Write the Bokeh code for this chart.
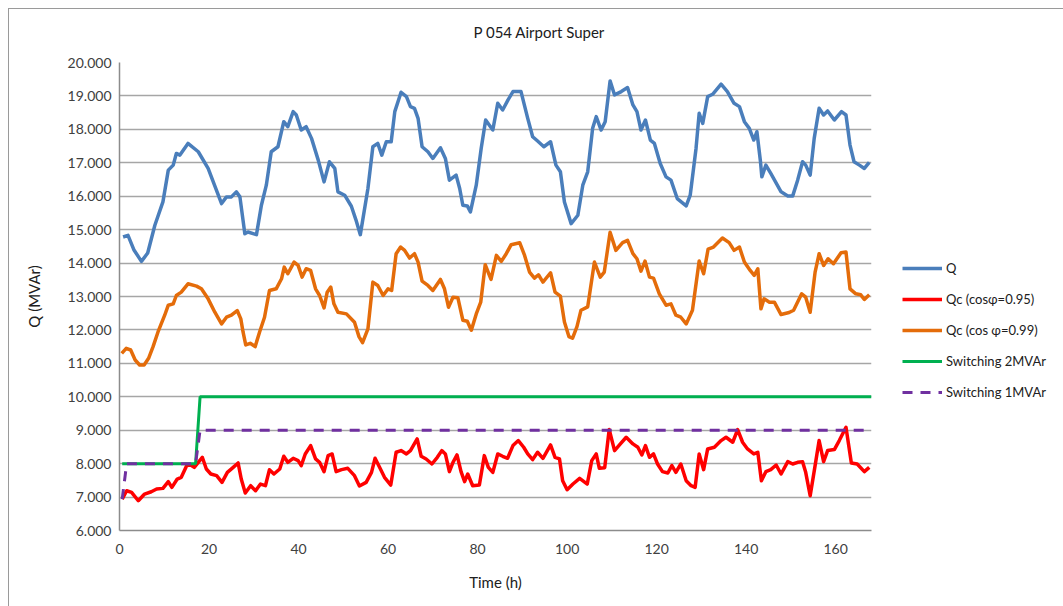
from bokeh.plotting import figure
from bokeh.models import (Legend, LegendItem, NumeralTickFormatter, FixedTicker, Range1d, Title)
from bokeh.embed import file_html
from bokeh.resources import INLINE

# ---------------- data ----------------
q_hours = [0.8, 1.9, 3.2, 4.9, 6.3, 7.9, 9.7, 10.9, 12.0, 12.7, 13.5, 15.3, 17.6, 19.8, 22.8, 23.9,
           25.0, 26.1, 26.9, 28.0, 28.7, 30.6, 31.7, 32.8, 33.9, 35.4, 36.7, 37.6, 38.8, 39.5, 40.6,
           41.7, 42.9, 44.4, 45.7, 46.9, 48.1, 48.8, 50.3, 51.8, 52.8, 53.8, 55.5, 56.6, 57.7, 58.6,
           59.6, 60.7, 61.5, 62.9, 64.1, 65.0, 65.9, 66.7, 67.6, 68.9, 70.0, 71.7, 72.8, 73.7, 75.2,
           76.0, 76.7, 77.7, 78.4, 79.7, 80.8, 81.8, 83.4, 84.5, 85.6, 86.8, 87.9, 89.7, 91.2, 92.3,
           93.4, 94.8, 96.3, 97.5, 98.5, 99.4, 100.9, 102.4, 103.5, 104.6, 105.7, 106.5, 107.6, 108.5,
           109.6, 110.6, 112.1, 113.5, 114.7, 115.6, 116.5, 117.5, 118.6, 119.5, 120.8, 122.1, 123.2,
           124.6, 126.6, 127.5, 128.8, 129.5, 130.3, 131.4, 132.5, 134.4, 135.8, 137.3, 138.5, 139.6,
           140.7, 141.7, 142.4, 143.2, 143.5, 144.4, 145.5, 147.8, 149.3, 150.4, 151.5, 152.6, 153.3,
           154.3, 155.2, 156.3, 157.3, 158.2, 159.7, 161.3, 162.3, 163.2, 164.1, 165.3, 166.4, 167.5]
q_values = [14.78, 14.83, 14.4, 14.05, 14.3, 15.13, 15.83, 16.78, 16.93, 17.28, 17.23, 17.58, 17.33,
            16.83, 15.78, 15.98, 15.98, 16.13, 15.98, 14.88, 14.93, 14.85, 15.73, 16.33, 17.33, 17.48,
            18.23, 18.08, 18.53, 18.43, 17.98, 18.08, 17.73, 17.08, 16.43, 17.03, 16.83, 16.13, 16.03,
            15.70, 15.3, 14.85, 16.23, 17.48, 17.58, 17.23, 17.63, 17.63, 18.53, 19.11, 18.98, 18.68,
            18.63, 18.33, 17.48, 17.33, 17.13, 17.45, 17.13, 16.48, 16.63, 16.23, 15.73, 15.71, 15.53,
            16.33, 17.43, 18.28, 17.98, 18.78, 18.58, 18.88, 19.13, 19.13, 18.33, 17.78, 17.65, 17.48,
            17.63, 16.93, 16.73, 15.83, 15.18, 15.43, 16.33, 16.73, 18.03, 18.38, 17.98, 18.23, 19.45,
            19.03, 19.13, 19.25, 18.73, 18.53, 17.98, 18.28, 17.68, 17.58, 16.98, 16.58, 16.48, 15.93,
            15.71, 16.03, 17.43, 18.48, 18.18, 18.98, 19.05, 19.35, 19.13, 18.78, 18.68, 18.23, 18.03,
            17.68, 17.93, 17.03, 16.58, 16.93, 16.68, 16.13, 16.01, 16.01, 16.48, 17.03, 16.93, 16.63,
            17.73, 18.63, 18.43, 18.55, 18.28, 18.53, 18.43, 17.53, 17.03, 16.93, 16.83, 17.01]

qc99_hours = [0.5, 1.5, 2.5, 3.5, 4.5, 5.5, 6.5, 7.5, 8.6, 10.1, 10.9, 12.0, 12.7, 13.8, 15.3, 17.2,
              18.3, 19.8, 21.3, 22.8, 23.9, 25.0, 26.3, 27.1, 27.6, 28.2, 29.2, 30.3, 31.3, 32.4, 33.5,
              35.0, 36.2, 36.8, 37.6, 39.0, 39.9, 40.8, 41.7, 42.7, 43.8, 44.7, 45.7, 46.4, 47.2, 47.9,
              48.8, 50.7, 52.5, 53.5, 54.3, 55.5, 56.6, 57.7, 58.9, 60.0, 60.8, 61.8, 62.8, 63.7, 64.8,
              65.9, 66.7, 67.6, 68.9, 70.0, 71.7, 72.6, 73.5, 74.5, 75.6, 76.7, 77.7, 78.6, 79.7, 80.7,
              81.7, 83.0, 84.2, 85.3, 86.4, 87.5, 89.4, 90.5, 91.6, 92.7, 93.6, 94.6, 96.3, 97.3, 98.5,
              99.4, 100.4, 101.2, 102.2, 103.1, 104.6, 106.1, 107.4, 108.3, 109.6, 110.9, 112.4, 113.5,
              114.7, 115.6, 116.5, 117.4, 118.4, 119.3, 120.6, 122.1, 123.2, 124.3, 125.4, 126.6, 128.0,
              129.5, 130.5, 131.5, 132.7, 134.7, 136.2, 137.3, 138.5, 139.6, 140.9, 141.8, 142.6, 143.3,
              144.0, 145.2, 146.3, 147.8, 149.6, 150.6, 152.4, 153.3, 154.3, 155.4, 156.3, 157.3, 158.3,
              159.5, 161.2, 162.3, 163.2, 164.5, 165.6, 166.4, 167.5]
qc99_values = [11.3, 11.45, 11.4, 11.1, 10.95, 10.95, 11.15, 11.5, 11.94, 12.44, 12.74, 12.78, 13.03,
               13.13, 13.38, 13.31, 13.23, 12.93, 12.53, 12.18, 12.38, 12.44, 12.58, 12.33, 11.94, 11.55,
               11.6, 11.5, 11.94, 12.38, 13.18, 13.23, 13.53, 13.88, 13.68, 14.03, 13.93, 13.58, 13.83,
               13.78, 13.23, 13.03, 12.66, 13.13, 13.28, 12.78, 12.53, 12.48, 12.23, 11.8, 11.62, 12.03,
               13.43, 13.33, 13.03, 13.23, 13.18, 14.28, 14.48, 14.38, 14.15, 14.28, 14.03, 13.46, 13.33,
               13.18, 13.51, 13.23, 12.68, 12.98, 12.96, 12.29, 12.26, 11.99, 12.48, 12.83, 13.95, 13.51,
               14.23, 14.05, 14.28, 14.55, 14.61, 14.23, 13.73, 13.55, 13.65, 13.43, 13.71, 13.13, 13.01,
               12.24, 11.8, 11.75, 12.1, 12.59, 12.69, 14.03, 13.58, 13.73, 14.92, 14.38, 14.61, 14.68,
               14.28, 14.13, 13.76, 14.06, 13.58, 13.55, 13.08, 12.74, 12.78, 12.44, 12.38, 12.18, 12.59,
               14.06, 13.68, 14.42, 14.48, 14.75, 14.61, 14.38, 14.48, 14.03, 13.78, 13.63, 13.83, 12.63,
               12.93, 12.83, 12.83, 12.46, 12.52, 12.59, 13.08, 12.98, 12.53, 13.73, 14.28, 13.93, 14.13,
               13.98, 14.31, 14.33, 13.23, 13.08, 13.05, 12.91, 13.05]

qc95_hours = [0.6, 1.6, 2.7, 4.2, 5.6, 7.1, 8.3, 9.7, 10.9, 11.7, 12.9, 13.8, 15.0, 15.9, 16.7, 17.6,
              18.5, 19.4, 20.4, 21.7, 22.9, 24.1, 25.4, 26.5, 27.2, 28.1, 29.3, 30.4, 31.5, 32.6, 33.5,
              34.5, 35.8, 36.7, 37.6, 38.8, 39.9, 40.6, 41.5, 42.7, 43.8, 44.7, 45.7, 46.6, 47.5, 48.4,
              49.6, 51.0, 52.5, 53.6, 55.1, 56.3, 57.1, 58.1, 59.2, 60.6, 61.8, 62.9, 64.1, 65.0, 66.5,
              67.4, 68.5, 69.8, 71.0, 72.0, 72.8, 73.7, 74.5, 75.4, 76.3, 77.1, 77.8, 78.9, 80.4, 81.5,
              82.4, 83.4, 84.5, 85.6, 86.7, 87.9, 89.1, 90.3, 91.2, 92.3, 93.4, 94.6, 96.3, 97.3, 98.3,
              99.0, 100.0, 101.3, 102.8, 104.5, 105.5, 106.5, 107.2, 108.4, 109.4, 110.6, 111.7, 113.2,
              114.7, 115.8, 116.7, 117.5, 118.4, 119.3, 120.2, 121.3, 122.5, 123.4, 124.3, 125.4, 126.6,
              127.7, 128.6, 129.5, 130.5, 131.4, 132.9, 134.4, 135.5, 137.0, 138.1, 139.2, 140.3, 141.7,
              142.6, 143.4, 144.4, 145.5, 146.7, 147.8, 149.3, 150.4, 151.5, 152.6, 153.3, 154.3, 155.4,
              156.3, 157.3, 158.2, 159.7, 160.8, 162.3, 163.5, 164.8, 166.4, 167.5]
qc95_values = [6.94, 7.19, 7.14, 6.89, 7.09, 7.16, 7.24, 7.26, 7.46, 7.29, 7.54, 7.59, 7.94, 7.96, 7.89,
               8.04, 8.19, 7.84, 7.69, 7.64, 7.44, 7.74, 7.89, 8.02, 7.54, 7.12, 7.34, 7.19, 7.39, 7.34,
               7.82, 7.69, 7.84, 8.22, 8.04, 8.16, 8.09, 7.94, 8.29, 8.54, 8.14, 8.04, 7.76, 8.24, 8.29,
               7.76, 7.82, 7.86, 7.64, 7.33, 7.44, 7.74, 8.16, 7.89, 7.59, 7.36, 8.34, 8.39, 8.29, 8.39,
               8.74, 8.22, 8.14, 7.99, 8.19, 8.39, 8.29, 7.76, 8.04, 8.26, 7.76, 7.46, 7.69, 7.34, 7.36,
               8.24, 7.89, 7.74, 8.29, 8.22, 8.16, 8.54, 8.69, 8.49, 8.29, 8.12, 8.34, 8.16, 8.56, 8.19,
               8.14, 7.49, 7.22, 7.39, 7.56, 7.39, 8.09, 8.29, 7.86, 7.88, 9.02, 8.39, 8.56, 8.79, 8.59,
               8.49, 8.26, 8.54, 8.19, 8.29, 7.99, 7.76, 7.72, 7.94, 7.74, 7.99, 7.49, 7.34, 7.29, 8.29,
               7.82, 8.44, 8.49, 8.69, 8.79, 8.64, 9.02, 8.64, 8.44, 8.29, 8.34, 7.49, 7.76, 7.82, 7.96,
               7.69, 8.06, 7.99, 8.04, 8.06, 7.74, 7.04, 7.94, 8.69, 8.06, 8.39, 8.42, 8.69, 9.09, 8.02,
               7.99, 7.76, 7.89]

sw2_hours = [0.6, 17.0, 18.0, 168.0]
sw2_values = [8.0, 8.0, 10.0, 10.0]

sw1_hours = [0.6, 1.6, 17.0, 18.0, 168.0]
sw1_values = [6.94, 8.0, 8.0, 9.0, 9.0]

x_tick_values = [0, 20, 40, 60, 80, 100, 120, 140, 160]
y_tick_values = [6, 7, 8, 9, 10, 11, 12, 13, 14, 15, 16, 17, 18, 19, 20]

chart_title = "P 054 Airport Super"
series_labels = ["Q", "Qc (cos\u03c6=0.95)", "Qc (cos \u03c6=0.99)", "Switching 2MVAr", "Switching 1MVAr"]

FONT = "Lato"
TXT = "#404040"

p = figure(frame_width=752, frame_height=468, output_backend="svg", toolbar_location=None,
           x_range=Range1d(0, 168), y_range=Range1d(6, 20),
           min_border_left=110, min_border_right=10, min_border_top=53, min_border_bottom=77,
           title=None)
p.styles = {"border": "1px solid #9a9a9a", "margin-left": "8px", "margin-top": "8px"}
p.outline_line_color = None
p.background_fill_color = "white"
p.border_fill_color = "white"

# spacer placed directly above the frame, then the real title above it
spacer = Title(text=" ", text_font_size="1px", standoff=12)
p.add_layout(spacer, "above")
main_title = Title(text=chart_title, text_font=FONT, text_font_size="15px",
                   text_font_style="normal", text_color="#202020",
                   align="left", offset=354, standoff=14)
p.add_layout(main_title, "above")

# grid
p.xgrid.grid_line_color = None
p.ygrid.ticker = FixedTicker(ticks=y_tick_values)
p.ygrid.grid_line_color = "#a6a6a6"
p.ygrid.grid_line_width = 1.6

# axes
p.xaxis.ticker = FixedTicker(ticks=x_tick_values)
p.yaxis.ticker = FixedTicker(ticks=y_tick_values)
p.yaxis.formatter = NumeralTickFormatter(format="0.000")
for ax in (p.xaxis[0], p.yaxis[0]):
    ax.axis_line_color = "#8c8c8c"
    ax.axis_line_width = 1.5
    ax.major_tick_line_color = None
    ax.minor_tick_line_color = None
    ax.major_tick_out = 0
    ax.major_tick_in = 0
    ax.minor_tick_out = 0
    ax.major_label_text_font = FONT
    ax.major_label_text_font_size = "14px"
    ax.major_label_text_color = TXT
    ax.axis_label_text_font = FONT
    ax.axis_label_text_font_size = "15px"
    ax.axis_label_text_font_style = "normal"
    ax.axis_label_text_color = "#202020"
p.xaxis.major_label_standoff = 13
p.yaxis.major_label_standoff = 8
p.xaxis.axis_label = "Time (h)"
p.yaxis.axis_label = "Q (MVAr)"
p.xaxis.axis_label_standoff = 16
p.yaxis.axis_label_standoff = 22

r_q = p.line(q_hours, q_values, line_color="#4A7EBB", line_width=3.5, line_join="round")
r_95 = p.line(qc95_hours, qc95_values, line_color="#FF0000", line_width=3.5, line_join="round")
r_99 = p.line(qc99_hours, qc99_values, line_color="#E46C0A", line_width=3.5, line_join="round")
r_s2 = p.line(sw2_hours, sw2_values, line_color="#00B050", line_width=3)
r_s1 = p.line(sw1_hours, sw1_values, line_color="#7030A0", line_width=3, line_dash="10 8")

legend = Legend(items=[LegendItem(label=series_labels[0], renderers=[r_q]),
                       LegendItem(label=series_labels[1], renderers=[r_95]),
                       LegendItem(label=series_labels[2], renderers=[r_99]),
                       LegendItem(label=series_labels[3], renderers=[r_s2]),
                       LegendItem(label=series_labels[4], renderers=[r_s1])],
                location=(31, 128))
legend.background_fill_alpha = 0
legend.border_line_color = None
legend.padding = 0
legend.margin = 0
legend.spacing = 11
legend.glyph_width = 40
legend.glyph_height = 20
legend.label_standoff = 4
legend.label_text_font = FONT
legend.label_text_font_size = "13px"
legend.label_text_color = "#202020"
p.add_layout(legend, "right")

open("out.html", "w").write(file_html(p, INLINE))
